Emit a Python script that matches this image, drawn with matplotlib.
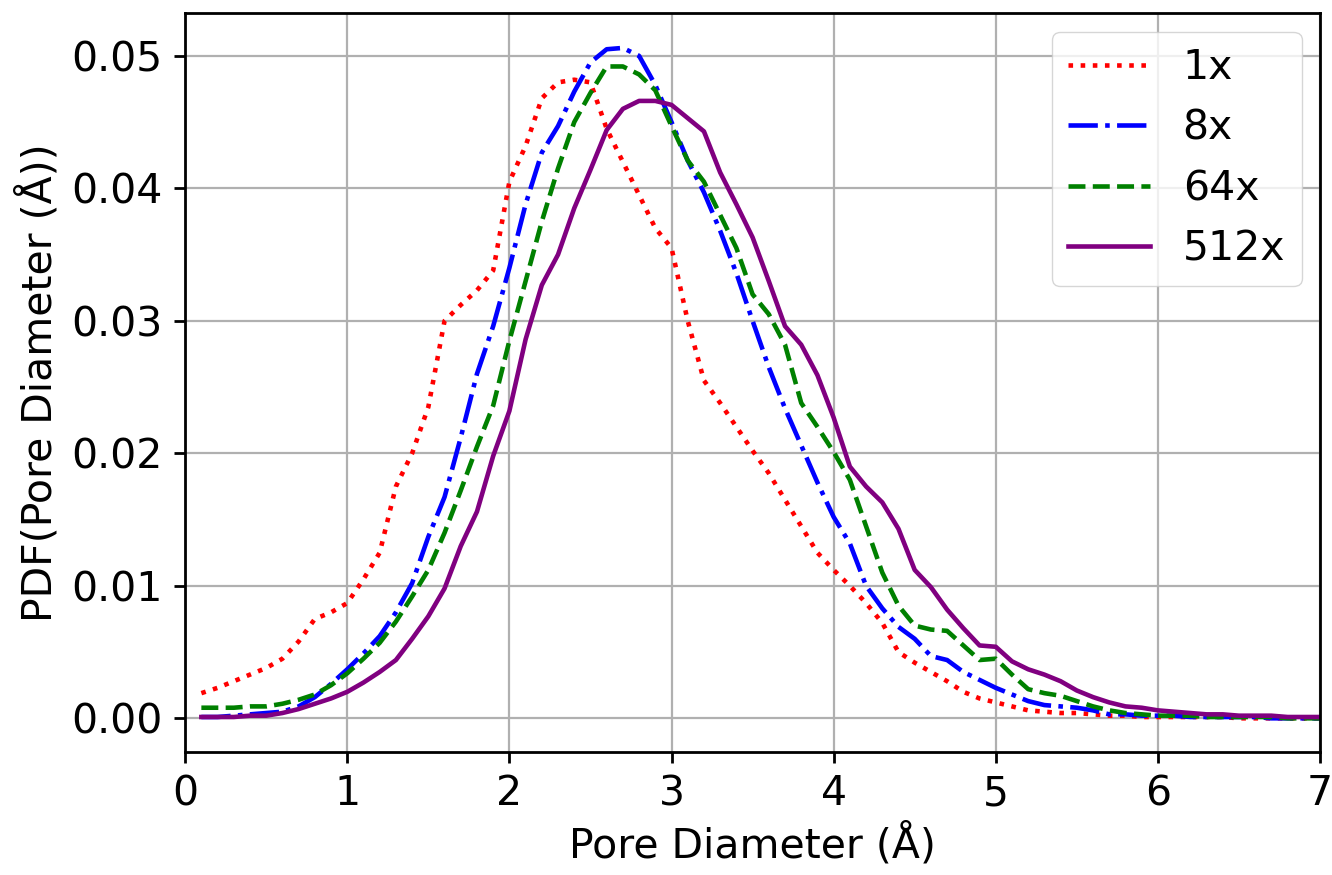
import numpy as np
import matplotlib
matplotlib.use('Agg')
import matplotlib.pyplot as plt

# pore diameter grid (Angstrom)
diam = np.round(np.arange(1, 71) * 0.1, 1)

pdf_1x = [0.0019, 0.0023, 0.0028, 0.0033, 0.0038, 0.0045, 0.0058, 0.0075, 0.0080, 0.0087,
          0.0105, 0.0125, 0.0175, 0.0200, 0.0235, 0.0300, 0.0312, 0.0323, 0.0338, 0.0405,
          0.0432, 0.0468, 0.0480, 0.0482, 0.0480, 0.0445, 0.0420, 0.0395, 0.0370, 0.0355,
          0.0300, 0.0255, 0.0238, 0.0220, 0.0202, 0.0185, 0.0165, 0.0145, 0.0125, 0.0112,
          0.0100, 0.0087, 0.0072, 0.0050, 0.0042, 0.0035, 0.0028, 0.0020, 0.0015, 0.0012,
          0.0009, 0.0006, 0.0005, 0.0004, 0.0004, 0.0003, 0.0002, 0.0002, 0.0001, 0.0001,
          0.0001, 0.0001, 0.0001, 0.0001, 0.0000, 0.0000, 0.0000, 0.0000, 0.0000, 0.0000]

pdf_8x = [0.0001, 0.0001, 0.0002, 0.0003, 0.0004, 0.0005, 0.0009, 0.0016, 0.0026, 0.0037,
          0.0049, 0.0062, 0.0080, 0.0102, 0.0137, 0.0167, 0.0212, 0.0260, 0.0296, 0.0340,
          0.0388, 0.0427, 0.0447, 0.0473, 0.0495, 0.0505, 0.0506, 0.0500, 0.0478, 0.0450,
          0.0421, 0.0397, 0.0368, 0.0336, 0.0300, 0.0265, 0.0234, 0.0206, 0.0178, 0.0152,
          0.0132, 0.0100, 0.0083, 0.0069, 0.0060, 0.0047, 0.0044, 0.0035, 0.0029, 0.0023,
          0.0018, 0.0013, 0.0010, 0.0009, 0.0008, 0.0006, 0.0003, 0.0003, 0.0002, 0.0002,
          0.0002, 0.0001, 0.0001, 0.0001, 0.0001, 0.0001, 0.0000, 0.0000, 0.0000, 0.0000]

pdf_64x = [0.0008, 0.0008, 0.0008, 0.0009, 0.0009, 0.0011, 0.0014, 0.0018, 0.0025, 0.0034,
           0.0045, 0.0057, 0.0073, 0.0092, 0.0112, 0.0140, 0.0172, 0.0205, 0.0236, 0.0285,
           0.0330, 0.0375, 0.0415, 0.0450, 0.0472, 0.0492, 0.0492, 0.0486, 0.0474, 0.0447,
           0.0421, 0.0405, 0.0380, 0.0355, 0.0320, 0.0305, 0.0282, 0.0238, 0.0220, 0.0201,
           0.0180, 0.0145, 0.0110, 0.0085, 0.0070, 0.0067, 0.0066, 0.0055, 0.0044, 0.0045,
           0.0033, 0.0022, 0.0019, 0.0017, 0.0013, 0.0009, 0.0006, 0.0004, 0.0003, 0.0002,
           0.0002, 0.0002, 0.0001, 0.0001, 0.0001, 0.0001, 0.0001, 0.0000, 0.0000, 0.0000]

pdf_512x = [0.0001, 0.0001, 0.0001, 0.0002, 0.0002, 0.0004, 0.0007, 0.0011, 0.0015, 0.0020,
            0.0027, 0.0035, 0.0044, 0.0060, 0.0077, 0.0098, 0.0130, 0.0156, 0.0198, 0.0232,
            0.0286, 0.0327, 0.0350, 0.0385, 0.0414, 0.0444, 0.0460, 0.0466, 0.0466, 0.0463,
            0.0453, 0.0443, 0.0412, 0.0388, 0.0363, 0.0330, 0.0296, 0.0282, 0.0259, 0.0227,
            0.0190, 0.0175, 0.0163, 0.0143, 0.0112, 0.0099, 0.0082, 0.0068, 0.0055, 0.0054,
            0.0043, 0.0037, 0.0033, 0.0028, 0.0021, 0.0016, 0.0012, 0.0009, 0.0008, 0.0006,
            0.0005, 0.0004, 0.0003, 0.0003, 0.0002, 0.0002, 0.0002, 0.0001, 0.0001, 0.0001]

labels = ['1x', '8x', '64x', '512x']
colors = ['red', 'blue', 'green', 'purple']
styles = [':', '-.', '--', '-']

fs = 29.5
fig = plt.figure(figsize=(13.32, 8.75), dpi=100)
ax = fig.add_axes([0.139, 0.1406, 0.852, 0.844])

for y, lab, c, ls in zip([pdf_1x, pdf_8x, pdf_64x, pdf_512x], labels, colors, styles):
    ax.plot(diam, y, color=c, linestyle=ls, linewidth=3.3, label=lab)

ax.set_xlim(0, 7)
ax.set_ylim(-0.00254, 0.0532)
ax.set_xticks(range(0, 8))
ax.set_yticks([0, 0.01, 0.02, 0.03, 0.04, 0.05])
ax.set_yticklabels(['%.2f' % v for v in [0, 0.01, 0.02, 0.03, 0.04, 0.05]])
ax.tick_params(labelsize=fs, length=8, width=2, pad=8)
for s in ax.spines.values():
    s.set_linewidth(2)
ax.grid(True, color='#b0b0b0', linewidth=1.6)
ax.set_xlabel('Pore Diameter (Å)', fontsize=fs, labelpad=6)
ax.set_ylabel('PDF(Pore Diameter (Å))', fontsize=fs, labelpad=8)
ax.legend(loc='upper right', fontsize=fs, borderaxespad=0.45)

fig.savefig('out.png', dpi=100)
